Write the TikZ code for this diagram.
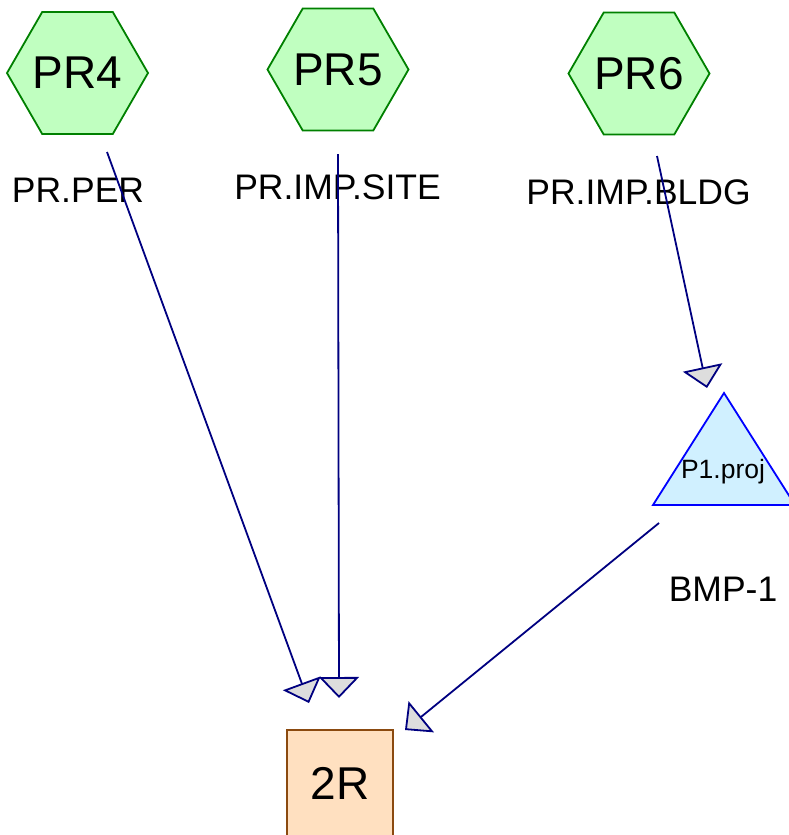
\documentclass[tikz,border=0pt]{standalone}
\usepackage{fontspec}
\setmainfont{Liberation Sans}
\usetikzlibrary{arrows.meta,shapes.geometric}
\definecolor{hexfill}{HTML}{C0FFC0}
\definecolor{hexline}{HTML}{008000}
\definecolor{trifill}{HTML}{D0F0FF}
\definecolor{triline}{HTML}{0000FF}
\definecolor{boxfill}{HTML}{FFE0C0}
\definecolor{boxline}{HTML}{8B4A0F}
\definecolor{edgecol}{HTML}{000080}
\definecolor{tipfill}{HTML}{DDDDDD}
\tikzset{
  hexnode/.style={regular polygon, regular polygon sides=6, minimum size=141pt,
    inner sep=0pt, draw=hexline, fill=hexfill, line width=1.8pt,
    label={[font=\fontsize{46}{46}\selectfont, inner sep=0pt]center:#1}},
  lbl/.style={inner sep=0pt, font=\fontsize{35.5}{35.5}\selectfont},
  tribox/.style={draw=triline, fill=trifill, line width=1.8pt, line join=miter},
  trilbl/.style={inner sep=0pt, font=\fontsize{26.5}{26.5}\selectfont},
  sqnode/.style={rectangle, minimum size=106pt, inner sep=0pt, draw=boxline,
    fill=boxfill, line width=2pt, font=\fontsize{46}{46}\selectfont},
  edge/.style={draw=edgecol, line width=1.8pt,
    -{Triangle[length=21pt,width=40pt,fill=tipfill]}}
}
\begin{document}
\begin{tikzpicture}[x=1pt,y=-1pt]
\useasboundingbox (0,0) rectangle (789,835);
% nodes
\node[hexnode=PR4] (pr4) at (77.5,73) {};
\node[hexnode=PR5] (pr5) at (338,69.5) {};
\node[hexnode=PR6] (pr6) at (639,73.5) {};
\node[lbl] (l4) at (78,190) {PR.PER};
\node[lbl] (l5) at (337.5,187.5) {PR.IMP.SITE};
\node[lbl] (l6) at (638.5,192) {PR.IMP.BLDG};
\draw[tribox] (724,393) -- (653,505) -- (795,505) -- cycle;
\node[trilbl] (p1) at (723,472) {P1.proj};
\node[lbl] (l1) at (723,589) {BMP-1};
\node[sqnode] (r2) at (340,783) {2R};
% connector ends
\coordinate (s4) at (107,152);
\coordinate (e4) at (309,703);
\coordinate (s5) at (338,154);
\coordinate (e5) at (339,698);
\coordinate (s6) at (657,156);
\coordinate (e6) at (707,388);
\coordinate (sp) at (659,523);
\coordinate (ep) at (405,730);
% connectors
\draw[edge] (s4) -- (e4);
\draw[edge] (s5) -- (e5);
\draw[edge] (s6) -- (e6);
\draw[edge] (sp) -- (ep);
\end{tikzpicture}
\end{document}
